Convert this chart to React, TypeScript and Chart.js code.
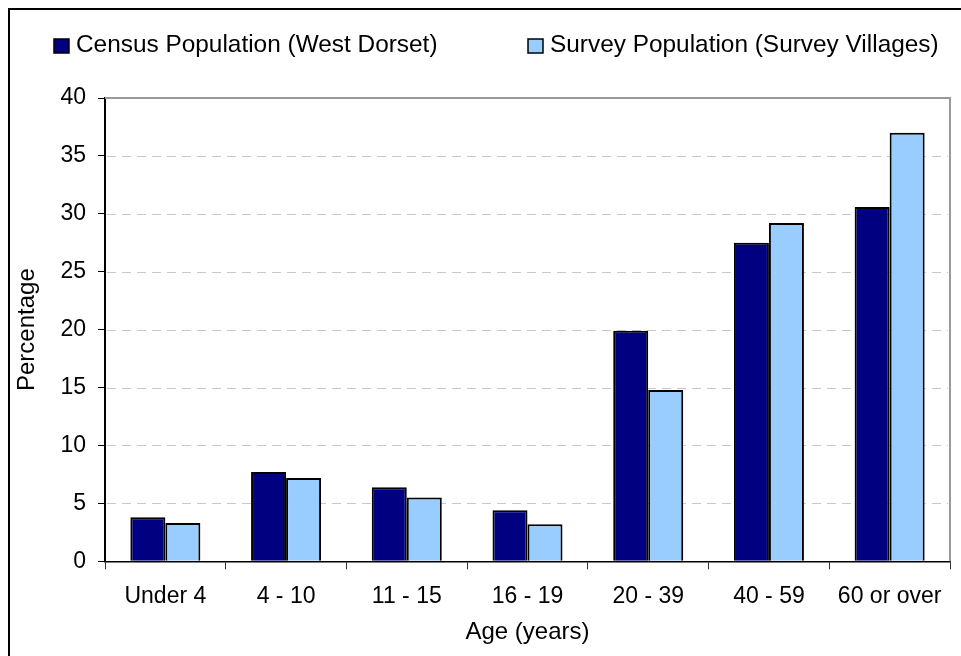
import React, { useEffect, useRef } from "react";
import { Chart, registerables } from "chart.js";

Chart.register(...registerables);

const categories = ["Under 4", "4 - 10", "11 - 15", "16 - 19", "20 - 39", "40 - 59", "60 or over"];
const censusValues = [3.8, 7.7, 6.4, 4.4, 19.9, 27.5, 30.6];
const surveyValues = [3.3, 7.2, 5.5, 3.2, 14.8, 29.2, 37.0];
const seriesLabels = ["Census Population (West Dorset)", "Survey Population (Survey Villages)"];
const seriesColors = ["#000080", "#99CCFF"];
const yTickMin = 0;
const yTickMax = 40;
const yTickStep = 5;

const FONT = '"Liberation Sans", Arial, sans-serif';

const decorPlugin = {
  id: "decor",
  beforeDatasetsDraw(chart: any) {
    const { ctx, chartArea } = chart;
    const y = chart.scales.y;
    ctx.save();
    ctx.strokeStyle = "#c8c8c8";
    ctx.lineWidth = 1;
    ctx.setLineDash([9, 6]);
    for (let v = yTickMin + yTickStep; v < yTickMax; v += yTickStep) {
      const py = Math.round(y.getPixelForValue(v)) + 0.5;
      ctx.beginPath();
      ctx.moveTo(chartArea.left + 2, py);
      ctx.lineTo(chartArea.right - 2, py);
      ctx.stroke();
    }
    ctx.setLineDash([]);
    ctx.strokeStyle = "#999999";
    ctx.lineWidth = 2;
    ctx.beginPath();
    ctx.moveTo(chartArea.left, chartArea.top);
    ctx.lineTo(chartArea.right, chartArea.top);
    ctx.lineTo(chartArea.right, chartArea.bottom);
    ctx.stroke();
    ctx.restore();
  },
  afterDraw(chart: any) {
    const { ctx } = chart;
    const boxX = [54, 528];
    ctx.save();
    ctx.font = "24.4px " + FONT;
    ctx.textBaseline = "middle";
    ctx.textAlign = "left";
    chart.data.datasets.forEach((ds: any, i: number) => {
      const bx = boxX[i];
      ctx.fillStyle = ds.backgroundColor;
      ctx.fillRect(bx, 39, 15, 14);
      ctx.strokeStyle = "#000";
      ctx.lineWidth = 1.5;
      ctx.strokeRect(bx, 39, 15, 14);
      ctx.fillStyle = "#000";
      ctx.fillText(ds.label, bx + 22, 45);
    });
    ctx.restore();
  },
};

export default function App() {
  const ref = useRef<HTMLCanvasElement | null>(null);
  useEffect(() => {
    if (!ref.current) return;
    const chart = new Chart(ref.current, {
      type: "bar",
      data: {
        labels: categories,
        datasets: [
          {
            label: seriesLabels[0],
            data: censusValues,
            backgroundColor: seriesColors[0],
            borderColor: "#000",
            borderWidth: 2,
            barPercentage: 1,
            categoryPercentage: 0.58,
          },
          {
            label: seriesLabels[1],
            data: surveyValues,
            backgroundColor: seriesColors[1],
            borderColor: "#000",
            borderWidth: 2,
            barPercentage: 1,
            categoryPercentage: 0.58,
          },
        ],
      },
      options: {
        responsive: false,
        animation: false,
        devicePixelRatio: 1,
        layout: { padding: { top: 98, right: 11, left: 0, bottom: 0 } },
        plugins: { legend: { display: false }, tooltip: { enabled: false } },
        scales: {
          x: {
            afterFit(scale: any) {
              scale.height = 94.7;
            },
            grid: {
              display: true,
              offset: true,
              drawOnChartArea: false,
              tickLength: 8,
              tickColor: "#333",
              tickWidth: 1,
            },
            border: { display: true, color: "#000", width: 1.5 },
            ticks: { color: "#000", font: { family: FONT, size: 23 }, padding: 13.5, maxRotation: 0, autoSkip: false },
            title: {
              display: true,
              text: "Age (years)",
              color: "#000",
              font: { family: FONT, size: 24 },
              padding: { top: 0, bottom: 9 },
            },
          },
          y: {
            min: yTickMin,
            max: yTickMax,
            afterFit(scale: any) {
              scale.width = 105;
            },
            ticks: { stepSize: yTickStep, color: "#000", font: { family: FONT, size: 23 }, padding: 12 },
            grid: {
              display: true,
              drawOnChartArea: false,
              tickLength: 7,
              tickColor: "#000",
              tickWidth: 1,
            },
            border: { display: true, color: "#000", width: 2 },
            title: {
              display: true,
              text: "Percentage",
              color: "#000",
              font: { family: FONT, size: 24 },
              padding: { top: 13, bottom: 0 },
            },
          },
        },
      },
      plugins: [decorPlugin],
    } as any);
    return () => chart.destroy();
  }, []);
  return (
    <div style={{ position: "fixed", left: 0, top: 0, width: 961, height: 656, overflow: "hidden", background: "#fff" }}>
      <div
        style={{
          position: "absolute",
          left: 8,
          top: 8,
          width: 1000,
          height: 700,
          border: "2px solid #000",
          boxSizing: "border-box",
          pointerEvents: "none",
        }}
      />
      <canvas ref={ref} width={961} height={656} style={{ position: "absolute", left: 0, top: 0, width: 961, height: 656 }} />
    </div>
  );
}
